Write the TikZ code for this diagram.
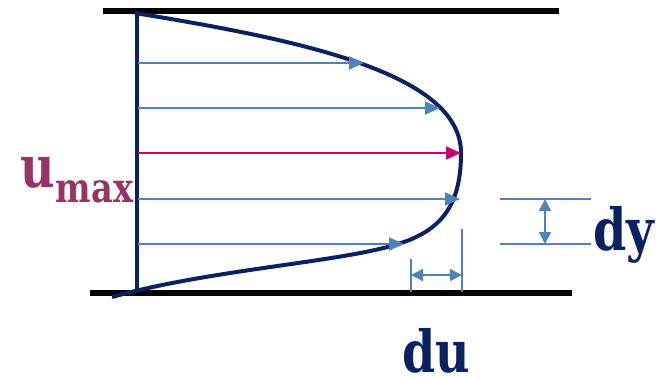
\documentclass[tikz,border=0pt]{standalone}
\usepackage{fontspec}
\setmainfont{DejaVu Serif}
\newfontfamily\labelfont[FakeStretch=0.82]{DejaVu Serif}
\usepackage{tikz}
\usetikzlibrary{arrows.meta}
\definecolor{Navy}{HTML}{0B2262}
\definecolor{Flow}{HTML}{4F81BD}
\definecolor{Peak}{HTML}{CC0066}
\definecolor{Plum}{HTML}{993366}
\begin{document}
\begin{tikzpicture}[x=0.5pt,y=-0.5pt,
  plate/.style={line width=3pt,black},
  vel/.style={Flow,line width=1pt,-{Triangle[length=7.5pt,width=6.5pt]}},
  dim/.style={Flow,line width=0.8pt},
  dimarr/.style={Flow,line width=0.8pt,{Triangle[length=6pt,width=6pt]}-{Triangle[length=6pt,width=6pt]}},
  big/.style={text=Navy,font=\labelfont\fontsize{29}{32}\selectfont\bfseries,inner sep=0pt}]
\useasboundingbox (0,0) rectangle (656,380);
% plates and wall
\draw[plate] (103,10.5) -- (559,10.5);
\draw[plate] (90,292.5) -- (572,292.5);
\draw[Navy,line width=2.4pt] (137,11) -- (137,292);
% velocity profile
\draw[Navy,line width=2pt] (135,13) .. controls (300,40) and (461,73) .. (461,153)
  .. controls (461,202) and (444,229) .. (401,243)
  .. controls (345,262) and (212,269) .. (112,297);
% velocity arrows
\foreach \y/\e [count=\i] in {63/364,108/440,199/460,244/404}
  \draw[vel] (138,\y) coordinate (s\i) -- (\e,\y) coordinate (t\i);
\draw[vel,Peak] (138,153) coordinate (s0) -- (461,153) coordinate (t0);
% du
\coordinate (du1) at (411,259);
\coordinate (du2) at (462,229);
\draw[dim] (du1) -- (411,292) (du2) -- (462,292);
\draw[dimarr] (411,275) -- (462,275);
% dy
\coordinate (dy1) at (500,199);
\coordinate (dy2) at (500,244);
\draw[dim] (dy1) -- (591,199) (dy2) -- (591,244);
\draw[dimarr] (545,199) -- (545,244);
% labels
\node[big,anchor=base west] (du) at (402,372) {du};
\node[big,anchor=base west] (dy) at (593,250) {dy};
\node[big,text=Plum,anchor=base west] (u) at (20,187) {u};
\node[text=Plum,font=\labelfont\fontsize{20.5}{22}\selectfont\bfseries,inner sep=0pt,anchor=base west] (max) at (u.base east) [yshift=-7.5pt] {max};
\end{tikzpicture}
\end{document}
